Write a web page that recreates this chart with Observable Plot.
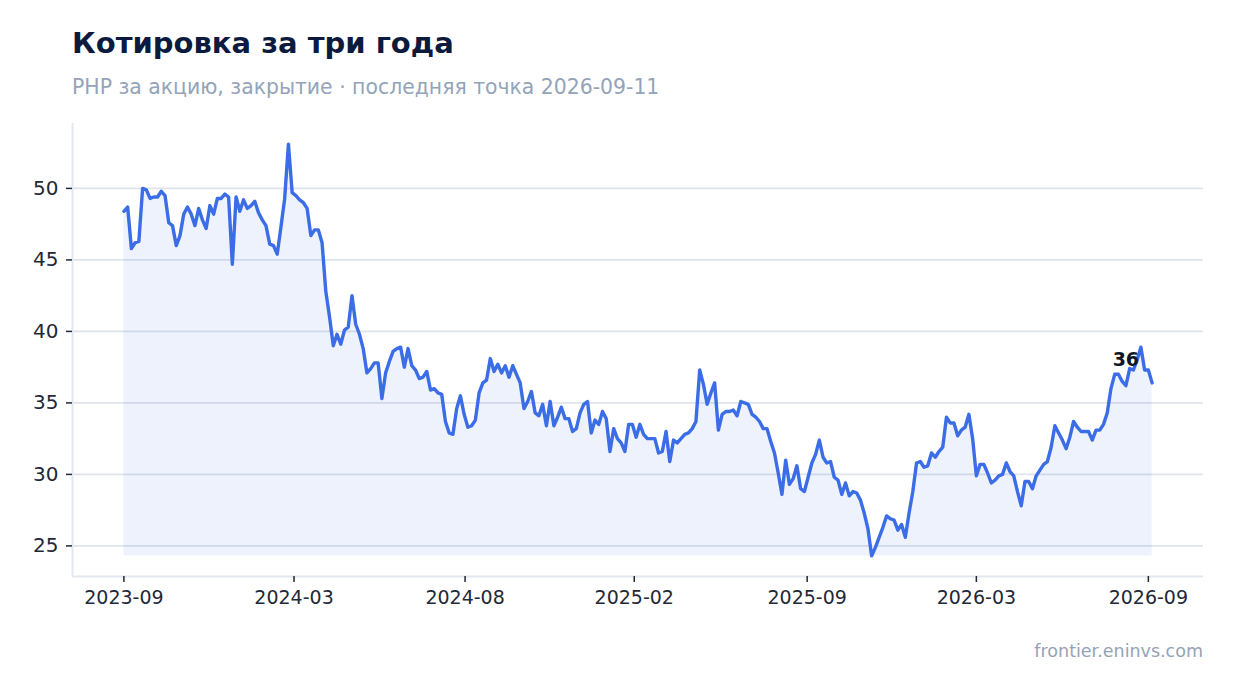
<!DOCTYPE html>
<html>
<head>
<meta charset="utf-8">
<script src="https://cdn.jsdelivr.net/npm/d3@7"></script>
<script src="https://cdn.jsdelivr.net/npm/@observablehq/plot@0.6"></script>
<style>
  html, body { margin: 0; padding: 0; background: #ffffff; }
  #wrap { position: relative; width: 1234px; height: 693px; font-family: "DejaVu Sans", sans-serif; overflow: hidden; }
  .title { position: absolute; left: 72px; top: 28.8px; font-size: 29px; line-height: 29px; font-weight: bold; color: #0b1a3d; white-space: nowrap; }
  .subtitle { position: absolute; left: 72px; top: 76.7px; font-size: 20.4px; line-height: 20.4px; color: #94a3b8; white-space: nowrap; }
  #chart { position: absolute; left: 0; top: 110px; }
  .caption { position: absolute; right: 31px; top: 642.5px; font-size: 17.5px; line-height: 17.5px; color: #94a3b8; white-space: nowrap; }
</style>
</head>
<body>
<div id="wrap">
  <div class="title">Котировка за три года</div>
  <div class="subtitle">РНР за акцию, закрытие · последняя точка 2026-09-11</div>
  <div id="chart"></div>
  <div class="caption">frontier.eninvs.com</div>
</div>
<script>
// ---- data ----
const firstDate = "2023-09-01";   // first observation
const stepDays = 4;               // one observation every 4 calendar days
const closes = [
  48.4, 48.7, 45.8, 46.2, 46.3, 50.0, 49.9, 49.3, 49.4, 49.4,
  49.8, 49.5, 47.6, 47.4, 46.0, 46.7, 48.2, 48.7, 48.2, 47.4,
  48.6, 47.8, 47.2, 48.8, 48.2, 49.3, 49.3, 49.6, 49.4, 44.7,
  49.4, 48.4, 49.2, 48.6, 48.8, 49.1, 48.3, 47.8, 47.4, 46.1,
  46.0, 45.4, 47.3, 49.3, 53.1, 49.7, 49.5, 49.2, 49.0, 48.6,
  46.7, 47.1, 47.1, 46.2, 42.8, 41.0, 39.0, 39.8, 39.1, 40.1,
  40.3, 42.5, 40.5, 39.8, 38.8, 37.1, 37.4, 37.8, 37.8, 35.3,
  37.1, 37.9, 38.6, 38.8, 38.9, 37.5, 38.8, 37.6, 37.3, 36.7,
  36.8, 37.2, 35.9, 36.0, 35.7, 35.6, 33.7, 32.9, 32.8, 34.6,
  35.5, 34.2, 33.3, 33.4, 33.8, 35.7, 36.4, 36.6, 38.1, 37.2,
  37.7, 37.1, 37.6, 36.8, 37.6, 37.0, 36.4, 34.6, 35.1, 35.8,
  34.3, 34.1, 34.9, 33.4, 35.1, 33.4, 34.0, 34.7, 33.9, 33.9,
  33.0, 33.2, 34.3, 34.9, 35.1, 32.9, 33.8, 33.5, 34.4, 33.9,
  31.6, 33.2, 32.5, 32.2, 31.6, 33.5, 33.5, 32.6, 33.5, 32.8,
  32.5, 32.5, 32.5, 31.5, 31.6, 33.0, 30.9, 32.4, 32.2, 32.5,
  32.8, 32.9, 33.2, 33.7, 37.3, 36.3, 34.9, 35.7, 36.4, 33.1,
  34.2, 34.4, 34.4, 34.5, 34.1, 35.1, 35.0, 34.9, 34.2, 34.0,
  33.7, 33.2, 33.2, 32.3, 31.5, 30.1, 28.6, 31.0, 29.3, 29.7,
  30.6, 29.0, 28.8, 29.8, 30.8, 31.4, 32.4, 31.2, 30.8, 30.9,
  29.8, 29.6, 28.6, 29.4, 28.5, 28.8, 28.7, 28.2, 27.3, 26.2,
  24.3, 24.9, 25.6, 26.3, 27.1, 26.9, 26.8, 26.1, 26.5, 25.6,
  27.3, 28.8, 30.8, 30.9, 30.5, 30.6, 31.5, 31.2, 31.6, 31.9,
  34.0, 33.6, 33.6, 32.7, 33.1, 33.3, 34.2, 32.5, 29.9, 30.7,
  30.7, 30.1, 29.4, 29.6, 29.9, 30.0, 30.8, 30.2, 29.9, 28.8,
  27.8, 29.5, 29.5, 29.0, 29.9, 30.3, 30.7, 30.9, 31.9, 33.4,
  32.9, 32.4, 31.8, 32.6, 33.7, 33.3, 33.0, 33.0, 33.0, 32.4,
  33.1, 33.1, 33.5, 34.3, 36.0, 37.0, 37.0, 36.5, 36.2, 37.4,
  37.3, 38.0, 38.9, 37.3, 37.3, 36.4
];
const yTicks = [25, 30, 35, 40, 45, 50];
const xTickDates = ["2023-09-01", "2024-03-01", "2024-08-31", "2025-02-28", "2025-09-01", "2026-03-01", "2026-09-01"];

// ---- styles ----
const lineColor = "#3b6de7";
const gridColor = "#dfe3ec";
const frameColor = "#e3e7ef";
const inkColor = "#1f2937";

const start = new Date(firstDate + "T00:00:00Z");
const data = closes.map((close, i) => ({date: d3.utcDay.offset(start, i * stepDays), close}));
const last = data[data.length - 1];

const [xMin, xMax] = d3.extent(data, d => d.date);
const xPad = (xMax - xMin) * 0.05;
const xDomain = [new Date(+xMin - xPad), new Date(+xMax + xPad)];
const [vMin, vMax] = d3.extent(data, d => d.close);
const yPad = (vMax - vMin) * 0.05;
const yDomain = [vMin - yPad, vMax + yPad];

const chart = Plot.plot({
  width: 1234,
  height: 506,
  marginTop: 13,
  marginLeft: 72,
  marginRight: 31,
  marginBottom: 40,
  style: {fontFamily: "DejaVu Sans, sans-serif", color: inkColor, background: "transparent"},
  x: {type: "utc", domain: xDomain, label: null},
  y: {domain: yDomain, label: null},
  marks: [
    Plot.gridY(yTicks, {stroke: gridColor, strokeWidth: 1.6, strokeOpacity: 1}),
    Plot.areaY(data, {x: "date", y1: vMin, y2: "close", fill: lineColor, fillOpacity: 0.09}),
    Plot.ruleX([xDomain[0]], {stroke: frameColor, strokeWidth: 2}),
    Plot.ruleY([yDomain[0]], {stroke: frameColor, strokeWidth: 2}),
    Plot.lineY(data, {x: "date", y: "close", stroke: lineColor, strokeWidth: 3.4, strokeLinejoin: "round", strokeLinecap: "round"}),
    Plot.axisY(yTicks, {tickSize: 6, tickPadding: 8, fontSize: 20, strokeWidth: 1.5, tickFormat: d => String(d)}),
    Plot.axisX(xTickDates.map(s => new Date(s + "T00:00:00Z")), {tickSize: 6, tickPadding: 8, fontSize: 19, strokeWidth: 1.5, tickFormat: d3.utcFormat("%Y-%m")}),
    Plot.text([last], {x: "date", y: "close", text: d => d3.format(".0f")(d.close), dx: -13, dy: -23, textAnchor: "end", fontSize: 19, fontWeight: "bold", fill: "#0f172a"})
  ]
});
document.getElementById("chart").appendChild(chart);
</script>
</body>
</html>
